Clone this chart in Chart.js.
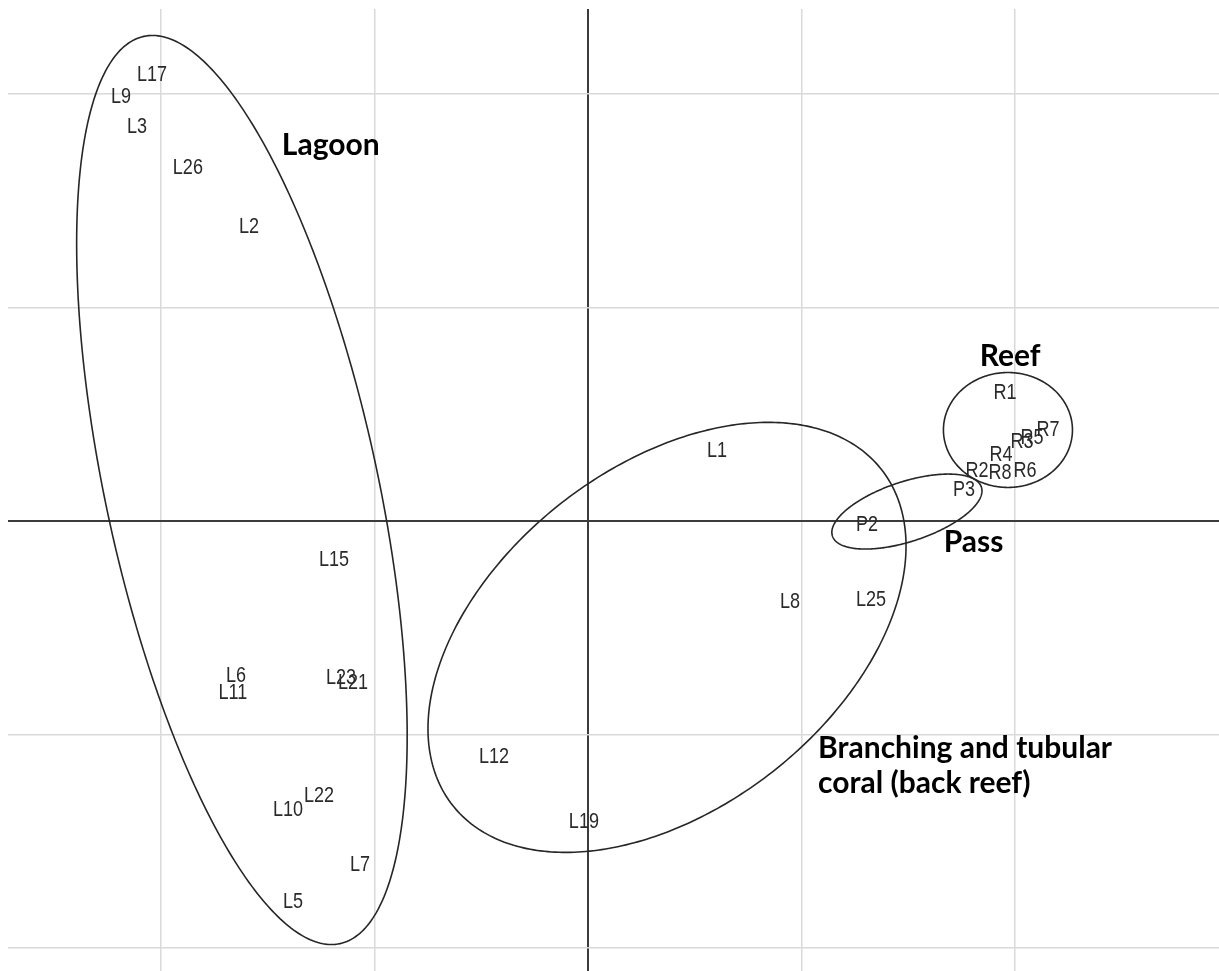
<!DOCTYPE html>
<html>
<head>
<meta charset="utf-8">
<script src="https://cdn.jsdelivr.net/npm/chart.js@4/dist/chart.umd.min.js"></script>
<style>
  html, body { margin: 0; padding: 0; background: #ffffff; }
  canvas { display: block; }
</style>
</head>
<body>
<canvas id="c" width="1219" height="971"></canvas>
<script>
// ---- data (ordination scores) ----
const lagoonLabels = ['L17','L9','L3','L26','L2','L15','L6','L11','L23','L21','L22','L10','L7','L5'];
const lagoonX = [-2.041,-2.186,-2.111,-1.873,-1.587,-1.189,-1.648,-1.662,-1.156,-1.100,-1.259,-1.404,-1.067,-1.381];
const lagoonY = [ 2.088, 1.985, 1.845, 1.653, 1.376,-0.183,-0.726,-0.805,-0.735,-0.758,-1.288,-1.353,-1.610,-1.784];

const branchLabels = ['L1','L8','L25','L12','L19'];
const branchX = [0.604, 0.946, 1.325,-0.440,-0.019];
const branchY = [0.328,-0.379,-0.370,-1.105,-1.409];

const passLabels = ['P2','P3'];
const passX = [1.306, 1.760];
const passY = [-0.019, 0.145];

const reefLabels = ['R1','R7','R5','R3','R4','R2','R8','R6'];
const reefX = [1.952, 2.154, 2.079, 2.032, 1.934, 1.821, 1.929, 2.046];
const reefY = [0.599, 0.426, 0.389, 0.370, 0.309, 0.234, 0.225, 0.234];

// axis ticks (grid lines only, no tick text)
const xTicks = [-2,-1,0,1,2];
const yTicks = [-2,-1,0,1,2];

// group ellipses (data units): centre, semi-axes, rotation in degrees
const ellipseNames = ['Lagoon','Branching','Pass','Reef'];
const ellipseCX = [-1.620, 0.370, 1.493, 1.966];
const ellipseCY = [ 0.145,-0.545, 0.044, 0.426];
const ellipseA  = [ 2.173, 1.275, 0.367, 0.302];
const ellipseB  = [ 0.637, 0.800, 0.140, 0.269];
const ellipseRot= [-77.8, 38.0, 18.2, 0];

// group names
const groupText = [['Lagoon'], ['Reef'], ['Pass'], ['Branching and tubular','coral (back reef)']];
const groupX = [-1.433, 1.976, 1.805, 1.077];
const groupY = [ 1.713, 0.726,-0.145,-1.110];
const groupAlign = ['left','center','center','left'];

function pts(xs, ys) { return xs.map((x, i) => ({ x: x, y: ys[i] })); }

const ellipsePlugin = {
  id: 'ellipses',
  beforeDatasetsDraw(chart) {
    const ctx = chart.ctx, xs = chart.scales.x, ys = chart.scales.y;
    ctx.save();
    ctx.strokeStyle = '#262626';
    ctx.lineWidth = 1.6;
    for (let e = 0; e < ellipseNames.length; e++) {
      const r = ellipseRot[e] * Math.PI / 180;
      const cr = Math.cos(r), sr = Math.sin(r);
      ctx.beginPath();
      for (let k = 0; k <= 360; k += 1) {
        const t = k * Math.PI / 180;
        const u = ellipseA[e] * Math.cos(t), v = ellipseB[e] * Math.sin(t);
        const dx = ellipseCX[e] + u * cr - v * sr;
        const dy = ellipseCY[e] + u * sr + v * cr;
        const px = xs.getPixelForValue(dx), py = ys.getPixelForValue(dy);
        if (k === 0) ctx.moveTo(px, py); else ctx.lineTo(px, py);
      }
      ctx.closePath();
      ctx.stroke();
    }
    ctx.restore();
  }
};

const labelPlugin = {
  id: 'pointLabels',
  afterDatasetsDraw(chart) {
    const ctx = chart.ctx;
    ctx.save();
    ctx.fillStyle = '#2a2a2a';
    ctx.font = '22px "Liberation Sans", Arial, sans-serif';
    ctx.textAlign = 'center';
    ctx.textBaseline = 'middle';
    chart.data.datasets.forEach((ds, di) => {
      const meta = chart.getDatasetMeta(di);
      meta.data.forEach((el, i) => {
        ctx.save();
        ctx.translate(el.x, el.y);
        ctx.scale(0.82, 1);
        ctx.fillText(ds.pointNames[i], 0, 0);
        ctx.restore();
      });
    });
    // group names
    const xs = chart.scales.x, ys = chart.scales.y;
    ctx.fillStyle = '#000000';
    ctx.font = 'bold 30px Lato, "Open Sans", sans-serif';
    ctx.textBaseline = 'alphabetic';
    for (let g = 0; g < groupText.length; g++) {
      ctx.textAlign = groupAlign[g];
      const px = xs.getPixelForValue(groupX[g]);
      const py = ys.getPixelForValue(groupY[g]);
      groupText[g].forEach((line, li) => ctx.fillText(line, px, py + li * 35));
    }
    ctx.restore();
  }
};

function gridColor(ctx) {
  const v = ctx.tick && ctx.tick.value;
  if (v === 0) return '#3c3c3c';
  return '#d9d9d9';
}
function gridWidth(ctx) {
  const v = ctx.tick && ctx.tick.value;
  return v === 0 ? 2 : 1.5;
}

new Chart(document.getElementById('c'), {
  type: 'scatter',
  data: {
    datasets: [
      { label: 'Lagoon', data: pts(lagoonX, lagoonY), pointNames: lagoonLabels },
      { label: 'Branching', data: pts(branchX, branchY), pointNames: branchLabels },
      { label: 'Pass', data: pts(passX, passY), pointNames: passLabels },
      { label: 'Reef', data: pts(reefX, reefY), pointNames: reefLabels }
    ].map(d => Object.assign(d, { pointRadius: 0, pointHoverRadius: 0, showLine: false }))
  },
  options: {
    responsive: false,
    animation: false,
    events: [],
    layout: { padding: { left: 8, top: 9, right: 0, bottom: 0 } },
    plugins: { legend: { display: false }, tooltip: { enabled: false } },
    scales: {
      x: {
        type: 'linear', min: -2.715, max: 2.954,
        afterBuildTicks: s => { s.ticks = xTicks.map(v => ({ value: v })); },
        ticks: { display: false },
        border: { display: false },
        grid: { color: gridColor, lineWidth: gridWidth, drawTicks: false }
      },
      y: {
        type: 'linear', min: -2.107, max: 2.397,
        afterBuildTicks: s => { s.ticks = yTicks.map(v => ({ value: v })); },
        ticks: { display: false },
        border: { display: false },
        grid: { color: gridColor, lineWidth: gridWidth, drawTicks: false }
      }
    }
  },
  plugins: [ellipsePlugin, labelPlugin]
});
</script>
</body>
</html>
